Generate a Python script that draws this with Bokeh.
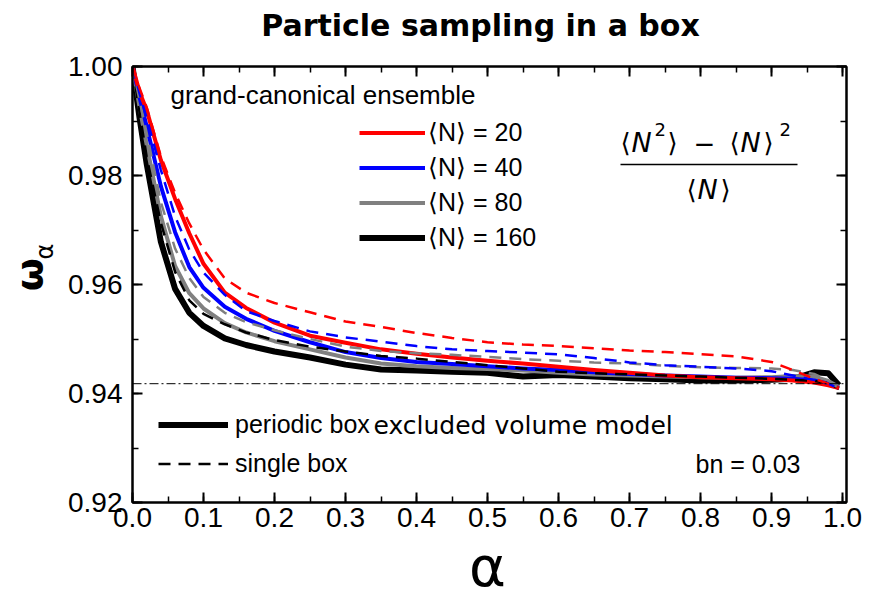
import math
from bokeh.plotting import figure
from bokeh.layouts import column, row
from bokeh.models import (Range1d, LinearAxis, SingleIntervalTicker, PrintfTickFormatter,
                          Label, Legend, LegendItem, Span, BoxAnnotation,
                          CustomLabelingPolicy)
from bokeh.embed import file_html
from bokeh.resources import INLINE

# ---------------- data ----------------
alpha = [0.0, 0.01, 0.02, 0.04, 0.06, 0.08, 0.10, 0.13, 0.16, 0.20, 0.25, 0.30, 0.35, 0.40,
         0.45, 0.50, 0.55, 0.60, 0.65, 0.70, 0.75, 0.80, 0.85, 0.90, 0.93, 0.96, 0.98, 0.995]

# periodic box (solid)
omega_n20_periodic = [1.0, .9953, .9920, .9828, .9757, .9694, .9638, .9585, .9557, .9530, .9506,
                      .9493, .9481, .9473, .9466, .9460, .9455, .9449, .9443, .9438, .9433, .9430,
                      .9428, .9426, .9424, .9420, .9415, .9410]
omega_n40_periodic = [1.0, .9943, .9890, .9780, .9696, .9632, .9594, .9559, .9537, .9515, .9494,
                      .9476, .9465, .9458, .9454, .9450, .9446, .9443, .9439, .9436, .9433, .9431,
                      .9429, .9428, .9427, .9424, .9418, .9410]
omega_n80_periodic = [1.0, .9925, .9856, .9725, .9634, .9584, .9556, .9529, .9512, .9496, .9481,
                      .9466, .9455, .9450, .9447, .9445, .9442, .9438, .9435, .9433, .9431, .9430,
                      .9429, .9430, .9432, .9431, .9423, .9412]
omega_n160_periodic = [1.0, .9905, .9821, .9678, .9592, .9548, .9524, .9501, .9489, .9477, .9466,
                       .9453, .9444, .9442, .9440, .9438, .9431, .9434, .9431, .9428, .9426, .9424,
                       .9424, .9425, .9427, .9439, .9437, .9415]

# single box (dashed)
omega_n20_single = [1.0, .9960, .9925, .9835, .9768, .9712, .9664, .9611, .9585, .9566, .9549,
                    .9532, .9522, .9511, .9502, .9494, .9490, .9487, .9483, .9479, .9476, .9472,
                    .9468, .9458, .9443, .9427, .9418, .9409]
omega_n40_single = [1.0, .9950, .9905, .9810, .9725, .9664, .9622, .9581, .9551, .9533, .9514,
                    .9503, .9495, .9487, .9481, .9478, .9475, .9472, .9465, .9457, .9452, .9449,
                    .9446, .9441, .9433, .9425, .9418, .9409]
omega_n80_single = [1.0, .9937, .9878, .9751, .9666, .9612, .9577, .9548, .9531, .9516, .9500,
                    .9486, .9478, .9474, .9471, .9467, .9463, .9460, .9457, .9455, .9451, .9448,
                    .9447, .9446, .9443, .9436, .9424, .9409]
omega_n160_single = [1.0, .9915, .9834, .9713, .9623, .9571, .9546, .9527, .9512, .9498, .9486,
                     .9477, .9469, .9464, .9458, .9452, .9446, .9440, .9437, .9435, .9433, .9431,
                     .9429, .9427, .9425, .9423, .9419, .9409]

reference_level = 0.9418

n_labels = ["⟨N⟩ = 20", "⟨N⟩ = 40", "⟨N⟩ = 80", "⟨N⟩ = 160"]
colors = ["#ff0000", "#0000ff", "#808080", "#000000"]
periodic_series = [omega_n20_periodic, omega_n40_periodic, omega_n80_periodic, omega_n160_periodic]
single_series = [omega_n20_single, omega_n40_single, omega_n80_single, omega_n160_single]

# ---------------- geometry (canvas pixels) ----------------
W, H = 872, 589
L, R, T, B = 132, 846, 66, 502          # plot frame
TOP_H = 48                               # strip holding the title
BOT_H = 49                               # strip holding the x-axis symbol
LEFT_W = 60                              # strip holding the y-axis symbol
MAIN_H = H - TOP_H - BOT_H
X_PER_PX = 1.0 / 710.0
Y_PER_PX = 0.08 / 436.0


def strip(w, h):
    f = figure(width=w, height=h, output_backend="svg", toolbar_location=None, title=None,
               x_range=Range1d(0, w), y_range=Range1d(0, h),
               x_axis_type=None, y_axis_type=None,
               min_border_left=0, min_border_right=0, min_border_top=0, min_border_bottom=0)
    f.outline_line_color = None
    f.background_fill_color = "white"
    f.border_fill_color = "white"
    return f


# ---------------- main plot ----------------
p = figure(width=W - LEFT_W, height=MAIN_H, output_backend="svg", toolbar_location=None,
           title=None,
           x_range=Range1d(0, (R - L) * X_PER_PX), y_range=Range1d(0.92, 1.0),
           min_border_left=L - LEFT_W, min_border_right=W - R, min_border_top=T - TOP_H,
           min_border_bottom=(H - BOT_H) - B)
p.xgrid.visible = False
p.ygrid.visible = False
p.outline_line_color = "black"
p.outline_line_width = 2
p.background_fill_color = "white"
p.border_fill_color = "white"

no_labels = CustomLabelingPolicy(code="for (const i of indices) { indices.unset(i) }\nreturn indices")


def style_axis(ax, interval, fmt, show_labels):
    ax.ticker = SingleIntervalTicker(interval=interval, num_minor_ticks=2)
    ax.axis_line_color = "black"
    ax.axis_line_width = 2
    ax.major_tick_in = 10
    ax.major_tick_out = 0
    ax.minor_tick_in = 6
    ax.minor_tick_out = 0
    ax.major_tick_line_width = 2
    ax.minor_tick_line_width = 1.5
    ax.major_tick_line_color = "black"
    ax.minor_tick_line_color = "black"
    ax.formatter = PrintfTickFormatter(format=fmt)
    if show_labels:
        ax.major_label_text_font = "Liberation Sans"
        ax.major_label_text_font_size = "28px"
        ax.major_label_text_color = "black"
    else:
        ax.major_label_text_font_size = "0px"
        ax.major_label_standoff = 0
        ax.major_label_policy = no_labels


style_axis(p.xaxis[0], 0.1, "%.1f", True)
p.xaxis[0].major_label_standoff = 5
style_axis(p.yaxis[0], 0.02, "%.2f", True)
p.yaxis[0].major_label_standoff = 10

top_axis = LinearAxis()
right_axis = LinearAxis()
style_axis(top_axis, 0.1, "%.1f", False)
style_axis(right_axis, 0.02, "%.2f", False)
p.add_layout(top_axis, "above")
p.add_layout(right_axis, "right")

p.add_layout(Span(location=reference_level, dimension="width", line_color="black",
                  line_width=1, line_dash="9 3 2 3"))

solid_widths = [4, 4, 4, 6]
solid_r = {}
for idx in [3, 2, 1, 0]:
    solid_r[idx] = p.line(alpha, periodic_series[idx], line_color=colors[idx],
                          line_width=solid_widths[idx], line_join="round")
dashed_r = {}
for idx in [3, 2, 1, 0]:
    dashed_r[idx] = p.line(alpha, single_series[idx], line_color=colors[idx],
                           line_width=2.5, line_dash="12 8")


def px_x(px):
    return (px - L) * X_PER_PX


def px_y(py):
    return 1.0 - (py - T) * Y_PER_PX


def add_label(fig, x, y, text, size, font="Liberation Sans", style="normal", align="left",
              angle=0.0):
    fig.add_layout(Label(x=x, y=y, text=text, text_font=font, text_font_size=f"{size}px",
                         text_font_style=style, text_align=align, text_baseline="middle",
                         angle=angle, text_color="black"))


leg_top = Legend(items=[LegendItem(label=n_labels[i], renderers=[solid_r[i]]) for i in range(4)],
                 location=(359 - L, B - (237 + 17.5)), glyph_width=66, glyph_height=35,
                 label_height=35, label_standoff=3, spacing=0, padding=0, margin=0,
                 border_line_color=None, background_fill_alpha=0,
                 label_text_font="Liberation Sans", label_text_font_size="25px",
                 label_text_color="black")
p.add_layout(leg_top)

leg_bottom = Legend(items=[LegendItem(label="periodic box", renderers=[solid_r[3]]),
                           LegendItem(label="single box", renderers=[dashed_r[3]])],
                    location=(158 - L, B - (463 + 19.5)), glyph_width=70, glyph_height=39,
                    label_height=39, label_standoff=7, spacing=0, padding=0, margin=0,
                    border_line_color=None, background_fill_alpha=0,
                    label_text_font="Liberation Sans", label_text_font_size="25px",
                    label_text_color="black")
p.add_layout(leg_bottom)

add_label(p, px_x(170), px_y(94), "grand-canonical ensemble", 26)
add_label(p, px_x(373), px_y(425), "excluded volume model", 25, font="DejaVu Sans")
add_label(p, px_x(695), px_y(463), "bn = 0.03", 25)

# formula  (<N^2> - <N>^2) / <N>
num_mid, sup_mid, den_mid = 142, 129, 189
pieces = [
    ("⟨", 620, num_mid, 26, "normal"), ("N", 631, num_mid, 27, "italic"),
    ("2", 654, sup_mid, 18, "normal"), ("⟩", 667, num_mid, 26, "normal"),
    ("−", 693, num_mid, 26, "normal"), ("⟨", 729, num_mid, 26, "normal"),
    ("N", 740, num_mid, 27, "italic"), ("⟩", 763, num_mid, 26, "normal"),
    ("2", 779, sup_mid, 18, "normal"),
    ("⟨", 686, den_mid, 26, "normal"), ("N", 697, den_mid, 27, "italic"),
    ("⟩", 720, den_mid, 26, "normal"),
]
for txt, px, py, size, style in pieces:
    add_label(p, px_x(px), px_y(py), txt, size, font="DejaVu Sans", style=style)
p.add_layout(BoxAnnotation(left=px_x(620), right=px_x(797), top=px_y(163.2), bottom=px_y(164.8),
                           fill_color="black", fill_alpha=1.0, line_color=None))

# ---------------- surrounding strips: title and axis symbols ----------------
top = strip(W, TOP_H)
add_label(top, 480, TOP_H - 24.5, "Particle sampling in a box", 30, font="DejaVu Sans",
          style="bold", align="center")

left = strip(LEFT_W, MAIN_H)
add_label(left, 28, (H - BOT_H) - 283, "ω", 38, font="DejaVu Sans", style="bold",
          align="center", angle=math.pi / 2)
add_label(left, 44, (H - BOT_H) - 257, "α", 24, font="DejaVu Sans", align="center",
          angle=math.pi / 2)

bottom = strip(W, BOT_H)
add_label(bottom, 487, H - 566, "α", 56, font="DejaVu Sans", align="center")

layout = column(top, row(left, p), bottom)

open("out.html", "w").write(file_html(layout, INLINE))
